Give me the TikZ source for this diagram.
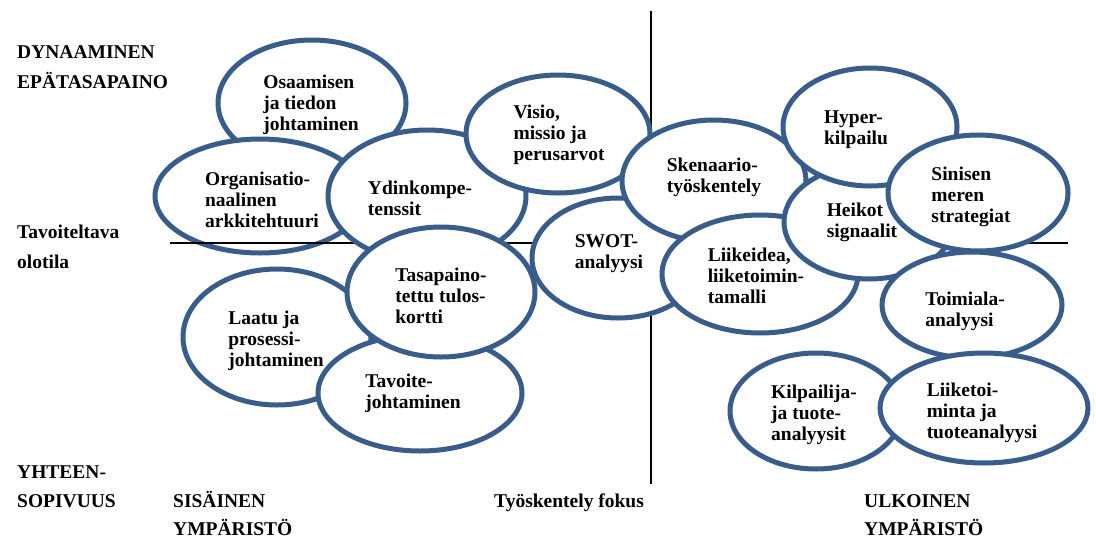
\documentclass[tikz,border=0pt]{standalone}
\usepackage{fontspec}
\setmainfont{Liberation Serif}
\usetikzlibrary{shapes.geometric}
\definecolor{bubbleblue}{RGB}{56,93,138}
\begin{document}
\begin{tikzpicture}[x=1pt,y=-1pt,
  txt/.style={font=\bfseries\fontsize{19.5}{21}\selectfont},
  bubble/.style={ellipse, draw=bubbleblue, line width=5pt, fill=white, inner sep=0pt},
  radii/.style 2 args={minimum width={2*#1}, minimum height={2*#2}},
  bubbletext/.style={align=left, inner sep=0pt, txt},
  axislabel/.style={anchor=base west, inner sep=0pt, txt},
  axisline/.style={line width=2.5pt, black}]
\useasboundingbox (0,0) rectangle (1096,539);

% vertical divider: internal / external environment
\coordinate (vtop) at (651,11);
\coordinate (vbot) at (651,484);
\draw[axisline] (vtop) -- (vbot);

% each bubble is drawn together with its text, so later bubbles cover both
\node[bubble, radii={94}{63}]  (osaaminen) at (312,103) {};
\node[bubbletext] (osaaminen-t) at (311,105) {Osaamisen\\ja tiedon\\johtaminen};
\node[bubble, radii={105}{57}] (arkkit) at (260,196) {};
\node[bubbletext] (arkkit-t) at (262,200) {Organisatio-\\naalinen\\arkkitehtuuri};

% horizontal divider: target state
\coordinate (hleft) at (170,243);
\coordinate (hright) at (1068,243);
\draw[axisline, line width=2pt] (hleft) -- (hright);

\node[bubble, radii={99}{66}]  (ydin) at (427,196) {};
\node[bubbletext] (ydin-t) at (420,198) {Ydinkompe-\\tenssit};
\node[bubble, radii={92}{59}]  (visio) at (558,134) {};
\node[bubbletext] (visio-t) at (559,135) {Visio,\\missio ja\\perusarvot};
\node[bubble, radii={94}{68}]  (laatu) at (277,337) {};
\node[bubbletext] (laatu-t) at (276,341) {Laatu ja\\prosessi-\\johtaminen};
\node[bubble, radii={102}{58}] (tavoite) at (420,393) {};
\node[bubbletext] (tavoite-t) at (413,393) {Tavoite-\\johtaminen};
\node[bubble, radii={94}{65}]  (bsc) at (441,292) {};
\node[bubbletext] (bsc-t) at (441,296) {Tasapaino-\\tettu tulos-\\kortti};
\node[bubble, radii={86}{60}]  (swot) at (618,258) {};
\node[bubbletext] (swot-t) at (609,254) {SWOT-\\analyysi};
\node[bubble, radii={92}{61}]  (skenaario) at (714,181) {};
\node[bubbletext] (skenaario-t) at (714,177) {Skenaario-\\työskentely};
\node[bubble, radii={98}{59}]  (liikeidea) at (760,274) {};
\node[bubbletext] (liikeidea-t) at (756,276) {Liikeidea,\\liiketoimin-\\tamalli};
\node[bubble, radii={85}{57}]  (heikot) at (869,222) {};
\node[bubbletext] (heikot-t) at (862,222) {Heikot\\signaalit};
\node[bubble, radii={87}{59}]  (hyper) at (870,127) {};
\node[bubbletext] (hyper-t) at (856,130) {Hyper-\\kilpailu};
\node[bubble, radii={90}{58}]  (sininen) at (978,193) {};
\node[bubbletext] (sininen-t) at (971,197) {Sinisen\\meren\\strategiat};
\node[bubble, radii={90}{53}]  (toimiala) at (972,305) {};
\node[bubbletext] (toimiala-t) at (965,311) {Toimiala-\\analyysi};
\node[bubble, radii={86}{58}]  (kilpailija) at (816,411) {};
\node[bubbletext] (kilpailija-t) at (814,415) {Kilpailija-\\ja tuote-\\analyysit};
\node[bubble, radii={104}{55}] (liiketoiminta) at (984,408) {};
\node[bubbletext] (liiketoiminta-t) at (982,413) {Liiketoi-\\minta ja\\tuoteanalyysi};

% axis labels
\node[axislabel] (dyn1) at (17,58)  {DYNAAMINEN};
\node[axislabel] (dyn2) at (17,88)  {EPÄTASAPAINO};
\node[axislabel] (tav1) at (17,238) {Tavoiteltava};
\node[axislabel] (tav2) at (17,268) {olotila};
\node[axislabel] (yht1) at (17,478) {YHTEEN-};
\node[axislabel] (yht2) at (17,507) {SOPIVUUS};
\node[axislabel] (sis1) at (173,507) {SISÄINEN};
\node[axislabel] (sis2) at (173,535) {YMPÄRISTÖ};
\node[axislabel] (fokus) at (494,507) {Työskentely fokus};
\node[axislabel] (ulk1) at (864,507) {ULKOINEN};
\node[axislabel] (ulk2) at (864,535) {YMPÄRISTÖ};
\end{tikzpicture}
\end{document}
